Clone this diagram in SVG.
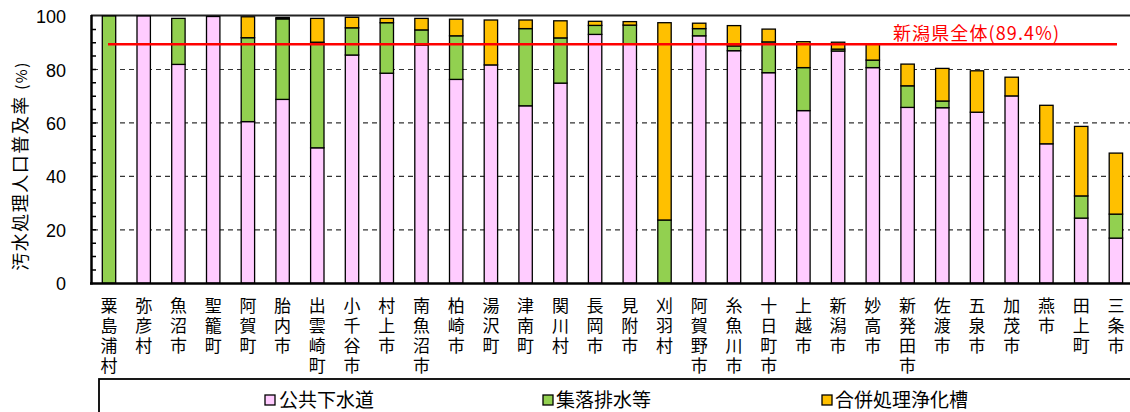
<svg xmlns="http://www.w3.org/2000/svg" width="1130" height="412" viewBox="0 0 1130 412">
<style>
.p{fill:#FFCCFF;stroke:#000;stroke-width:1.3}
.g{fill:#92D050;stroke:#000;stroke-width:1.3}
.o{fill:#FFC000;stroke:#000;stroke-width:1.3}
.grid{stroke:#333;stroke-width:1.2;stroke-dasharray:5 4}
.tick{stroke:#000;stroke-width:1.5}
.num{font-family:"Liberation Sans",Arial,sans-serif;font-size:18px;fill:#000;text-anchor:end}
.cat text{font-family:"Noto Sans CJK JP","Noto Sans CJK SC",sans-serif;font-size:17px;fill:#000;writing-mode:vertical-rl;letter-spacing:3px}
.leg{font-family:"Noto Sans CJK JP","Noto Sans CJK SC",sans-serif;font-size:19px;fill:#000}
</style>
<rect width="1130" height="412" fill="#fff"/>
<g id="grid">
<line class="grid" x1="93" y1="69.5" x2="1130" y2="69.5"/>
<line class="grid" x1="93" y1="122.9" x2="1130" y2="122.9"/>
<line class="grid" x1="93" y1="176.4" x2="1130" y2="176.4"/>
<line class="grid" x1="93" y1="229.8" x2="1130" y2="229.8"/>
<line x1="91" y1="15.5" x2="1130" y2="15.5" stroke="#222" stroke-width="2"/>
</g>
<g id="ticks">
<path class="tick" d="M91 29.4h5M91 42.8h5M91 56.1h5M91 69.5h5M91 82.8h5M91 96.2h5M91 109.6h5M91 122.9h5M91 136.3h5M91 149.7h5M91 163h5M91 176.4h5M91 189.8h5M91 203.1h5M91 216.5h5M91 229.8h5M91 243.2h5M91 256.6h5M91 269.9h5"/>
</g>
<g id="yaxis-labels">
<text class="num" x="66" y="23">100</text>
<text class="num" x="66" y="76.5">80</text>
<text class="num" x="66" y="130">60</text>
<text class="num" x="66" y="183.4">40</text>
<text class="num" x="66" y="236.8">20</text>
<text class="num" x="66" y="290.3">0</text>
<text transform="translate(27,166) rotate(-90)" text-anchor="middle" font-family="Noto Sans CJK JP, Noto Sans CJK SC, sans-serif" font-size="18" letter-spacing="1.5">汚水処理人口普及率 <tspan font-size="15">(%)</tspan></text>
</g>
<g id="bars">
<g id="b1"><rect class="g" x="102.3" y="16" width="13.4" height="267.3"/></g>
<g id="b2"><rect class="p" x="137" y="16" width="13.4" height="267.3"/></g>
<g id="b3"><rect class="p" x="171.7" y="64.4" width="13.4" height="218.9"/><rect class="g" x="171.7" y="18.4" width="13.4" height="46"/></g>
<g id="b4"><rect class="p" x="206.5" y="16.5" width="13.4" height="266.8"/></g>
<g id="b5"><rect class="p" x="241.2" y="121.6" width="13.4" height="161.7"/><rect class="g" x="241.2" y="37.7" width="13.4" height="83.9"/><rect class="o" x="241.2" y="16.8" width="13.4" height="20.9"/></g>
<g id="b6"><rect class="p" x="275.9" y="99.4" width="13.4" height="183.9"/><rect class="g" x="275.9" y="18.9" width="13.4" height="80.5"/><rect class="o" x="275.9" y="17.6" width="13.4" height="1.3"/></g>
<g id="b7"><rect class="p" x="310.6" y="147.8" width="13.4" height="135.5"/><rect class="g" x="310.6" y="42.2" width="13.4" height="105.6"/><rect class="o" x="310.6" y="18.4" width="13.4" height="23.8"/></g>
<g id="b8"><rect class="p" x="345.3" y="55" width="13.4" height="228.3"/><rect class="g" x="345.3" y="27.8" width="13.4" height="27.2"/><rect class="o" x="345.3" y="17.3" width="13.4" height="10.5"/></g>
<g id="b9"><rect class="p" x="380.1" y="73.2" width="13.4" height="210.1"/><rect class="g" x="380.1" y="22.7" width="13.4" height="50.5"/><rect class="o" x="380.1" y="18.4" width="13.4" height="4.3"/></g>
<g id="b10"><rect class="p" x="414.8" y="44.9" width="13.4" height="238.4"/><rect class="g" x="414.8" y="29.9" width="13.4" height="15"/><rect class="o" x="414.8" y="18.4" width="13.4" height="11.5"/></g>
<g id="b11"><rect class="p" x="449.5" y="79.4" width="13.4" height="203.9"/><rect class="g" x="449.5" y="35.8" width="13.4" height="43.6"/><rect class="o" x="449.5" y="19.2" width="13.4" height="16.6"/></g>
<g id="b12"><rect class="p" x="484.2" y="64.9" width="13.4" height="218.4"/><rect class="o" x="484.2" y="20" width="13.4" height="44.9"/></g>
<g id="b13"><rect class="p" x="518.9" y="105.8" width="13.4" height="177.5"/><rect class="g" x="518.9" y="28.6" width="13.4" height="77.2"/><rect class="o" x="518.9" y="20" width="13.4" height="8.6"/></g>
<g id="b14"><rect class="p" x="553.7" y="83.1" width="13.4" height="200.2"/><rect class="g" x="553.7" y="37.9" width="13.4" height="45.2"/><rect class="o" x="553.7" y="20.8" width="13.4" height="17.1"/></g>
<g id="b15"><rect class="p" x="588.4" y="34.4" width="13.4" height="248.9"/><rect class="g" x="588.4" y="25.4" width="13.4" height="9"/><rect class="o" x="588.4" y="21.3" width="13.4" height="4.1"/></g>
<g id="b16"><rect class="p" x="623.1" y="44.3" width="13.4" height="239"/><rect class="g" x="623.1" y="25.1" width="13.4" height="19.2"/><rect class="o" x="623.1" y="21.6" width="13.4" height="3.5"/></g>
<g id="b17"><rect class="g" x="657.8" y="220" width="13.4" height="63.3"/><rect class="o" x="657.8" y="22.7" width="13.4" height="197.3"/></g>
<g id="b18"><rect class="p" x="692.5" y="35.8" width="13.4" height="247.5"/><rect class="g" x="692.5" y="28.6" width="13.4" height="7.2"/><rect class="o" x="692.5" y="23.2" width="13.4" height="5.4"/></g>
<g id="b19"><rect class="p" x="727.3" y="50.7" width="13.4" height="232.6"/><rect class="g" x="727.3" y="45.9" width="13.4" height="4.8"/><rect class="o" x="727.3" y="25.6" width="13.4" height="20.3"/></g>
<g id="b20"><rect class="p" x="762" y="72.7" width="13.4" height="210.6"/><rect class="g" x="762" y="41.9" width="13.4" height="30.8"/><rect class="o" x="762" y="29.1" width="13.4" height="12.8"/></g>
<g id="b21"><rect class="p" x="796.7" y="110.6" width="13.4" height="172.7"/><rect class="g" x="796.7" y="67.6" width="13.4" height="43"/><rect class="o" x="796.7" y="41.7" width="13.4" height="25.9"/></g>
<g id="b22"><rect class="p" x="831.4" y="51" width="13.4" height="232.3"/><rect class="g" x="831.4" y="49.1" width="13.4" height="1.9"/><rect class="o" x="831.4" y="42.2" width="13.4" height="6.9"/></g>
<g id="b23"><rect class="p" x="866.1" y="67.6" width="13.4" height="215.7"/><rect class="g" x="866.1" y="60.1" width="13.4" height="7.5"/><rect class="o" x="866.1" y="43.8" width="13.4" height="16.3"/></g>
<g id="b24"><rect class="p" x="900.9" y="107.4" width="13.4" height="175.9"/><rect class="g" x="900.9" y="85.8" width="13.4" height="21.6"/><rect class="o" x="900.9" y="64.1" width="13.4" height="21.7"/></g>
<g id="b25"><rect class="p" x="935.6" y="107.7" width="13.4" height="175.6"/><rect class="g" x="935.6" y="101" width="13.4" height="6.7"/><rect class="o" x="935.6" y="68.4" width="13.4" height="32.6"/></g>
<g id="b26"><rect class="p" x="970.3" y="112.2" width="13.4" height="171.1"/><rect class="o" x="970.3" y="70.8" width="13.4" height="41.4"/></g>
<g id="b27"><rect class="p" x="1005" y="95.9" width="13.4" height="187.4"/><rect class="o" x="1005" y="77.2" width="13.4" height="18.7"/></g>
<g id="b28"><rect class="p" x="1039.7" y="143.8" width="13.4" height="139.5"/><rect class="o" x="1039.7" y="105.3" width="13.4" height="38.5"/></g>
<g id="b29"><rect class="p" x="1074.5" y="218.1" width="13.4" height="65.2"/><rect class="g" x="1074.5" y="195.9" width="13.4" height="22.2"/><rect class="o" x="1074.5" y="126.4" width="13.4" height="69.5"/></g>
<g id="b30"><rect class="p" x="1109.2" y="238.1" width="13.4" height="45.2"/><rect class="g" x="1109.2" y="214.1" width="13.4" height="24"/><rect class="o" x="1109.2" y="153.1" width="13.4" height="61"/></g>
</g>
<g id="axes">
<line x1="91.5" y1="15" x2="91.5" y2="284.5" stroke="#000" stroke-width="2.5"/>
<line x1="90" y1="283.5" x2="1130" y2="283.5" stroke="#000" stroke-width="2.5"/>
</g>
<g id="average">
<line x1="108" y1="44.3" x2="1117" y2="44.3" stroke="#FF0000" stroke-width="2.5"/>
<text x="893" y="40" font-family="Noto Sans CJK JP, Noto Sans CJK SC, sans-serif" font-size="18" fill="#FF0000" textLength="166">新潟県全体(89.4%)</text>
</g>
<g id="categories" class="cat">
<text x="109" y="297">粟島浦村</text>
<text x="143.7" y="297">弥彦村</text>
<text x="178.4" y="297">魚沼市</text>
<text x="213.2" y="297">聖籠町</text>
<text x="247.9" y="297">阿賀町</text>
<text x="282.6" y="297">胎内市</text>
<text x="317.3" y="297">出雲崎町</text>
<text x="352" y="297">小千谷市</text>
<text x="386.8" y="297">村上市</text>
<text x="421.5" y="297">南魚沼市</text>
<text x="456.2" y="297">柏崎市</text>
<text x="490.9" y="297">湯沢町</text>
<text x="525.6" y="297">津南町</text>
<text x="560.4" y="297">関川村</text>
<text x="595.1" y="297">長岡市</text>
<text x="629.8" y="297">見附市</text>
<text x="664.5" y="297">刈羽村</text>
<text x="699.2" y="297">阿賀野市</text>
<text x="734" y="297">糸魚川市</text>
<text x="768.7" y="297">十日町市</text>
<text x="803.4" y="297">上越市</text>
<text x="838.1" y="297">新潟市</text>
<text x="872.8" y="297">妙高市</text>
<text x="907.6" y="297">新発田市</text>
<text x="942.3" y="297">佐渡市</text>
<text x="977" y="297">五泉市</text>
<text x="1011.7" y="297">加茂市</text>
<text x="1046.4" y="297">燕市</text>
<text x="1081.2" y="297">田上町</text>
<text x="1115.9" y="297">三条市</text>
</g>
<g id="legend">
<rect x="99" y="379" width="1040" height="50" fill="#fff" stroke="#000" stroke-width="1.8"/>
<rect class="p" x="265" y="395" width="10" height="10"/>
<text class="leg" x="279" y="407">公共下水道</text>
<rect class="g" x="543" y="395" width="10" height="10"/>
<text class="leg" x="556" y="407">集落排水等</text>
<rect class="o" x="822" y="395" width="10" height="10"/>
<text class="leg" x="835" y="407">合併処理浄化槽</text>
</g>
</svg>
